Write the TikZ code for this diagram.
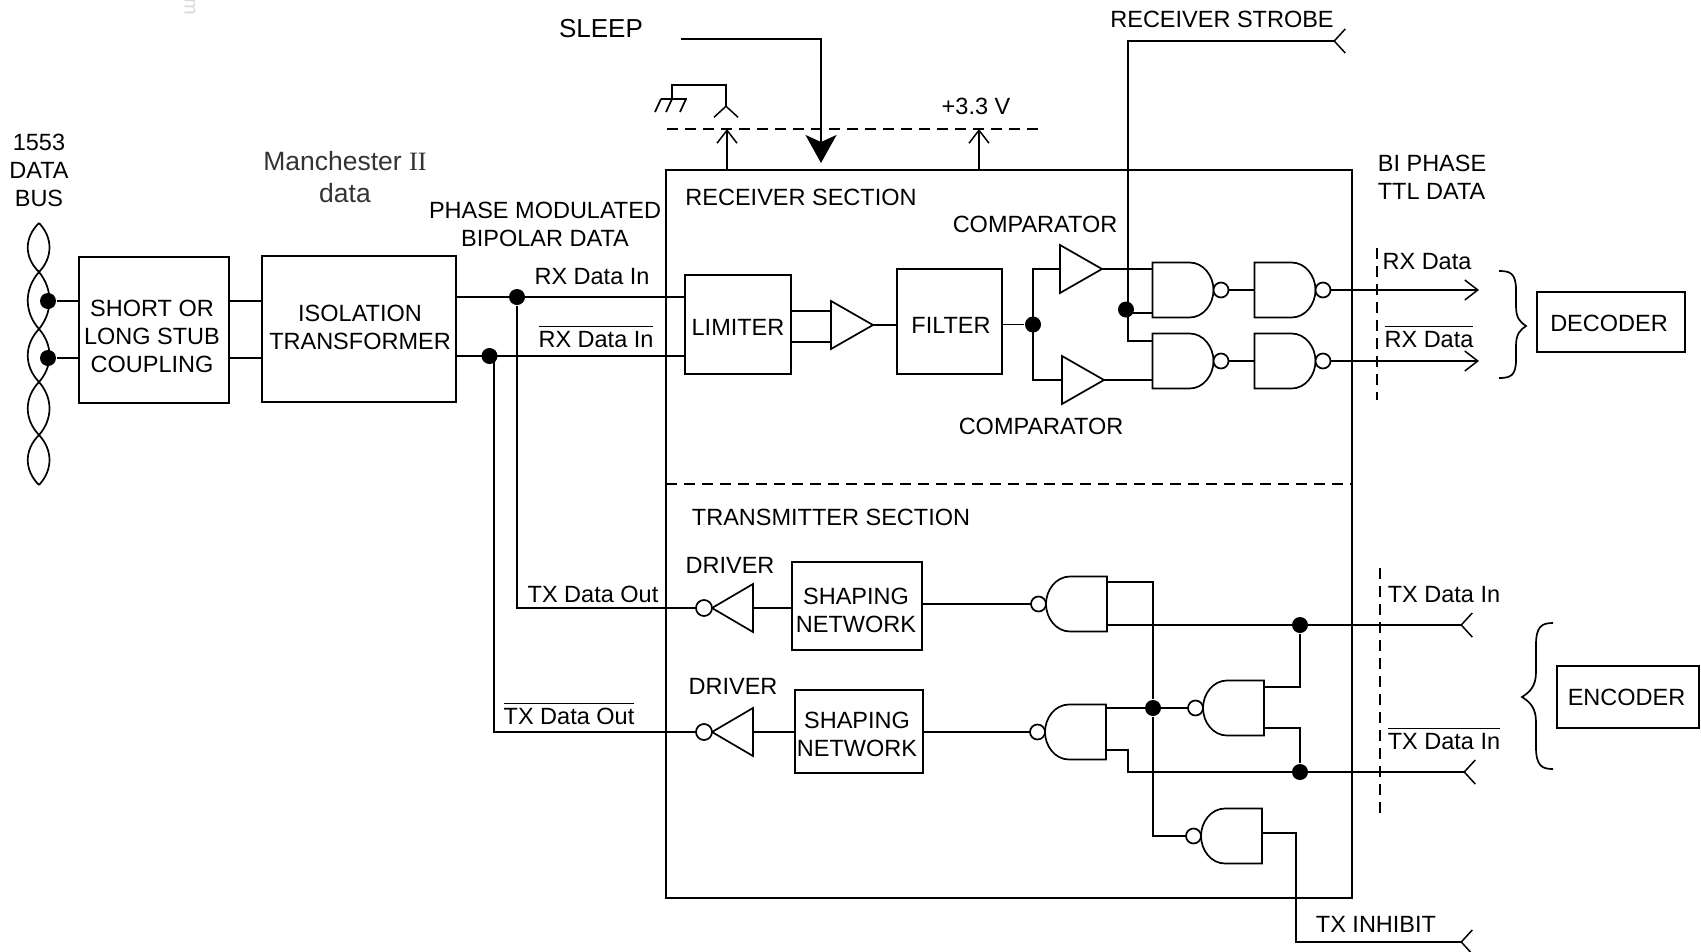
\documentclass[tikz,border=0pt]{standalone}
\usepackage{fontspec}
\setmainfont{Liberation Sans}
\newfontfamily\romanii{Liberation Serif}
\usetikzlibrary{arrows.meta}
\newcommand{\lblfont}{\fontsize{23.5}{28}\selectfont}
\newcommand{\barlbl}[1]{$\overline{\rule{0pt}{20pt}\mbox{#1}}$}
\tikzset{
blockbox/.style 2 args={draw,minimum width=#1,minimum height=#2},
dotnode/.style={circle,fill=black,minimum size=16pt},
dashwire/.style={dash pattern=on 11pt off 7pt},
outbarb/.style={-{Straight Barb[length=13pt,width=20pt,line width=1.5pt]}},
inbarb/.style={-{Straight Barb[reversed,length=11pt,width=24pt,line width=1.5pt]}},
nandgate/.pic={
\draw[fill=white](0,-27.5)--(37,-27.5) .. controls (51,-27.5) and (61,-14) .. (61,0) .. controls (61,14) and (51,27.5) .. (37,27.5)--(0,27.5)--cycle;
\draw[fill=white](68.5,0)circle(7.5pt);
\coordinate(-w)at(0,0);
\coordinate(-out)at(76,0);
},
bufgate/.pic={
\draw(0,-24)--(42,0)--(0,24)--cycle;
\coordinate(-in)at(0,0);
\coordinate(-out)at(42,0);
},
drvgate/.pic={
\draw(0,-24)--(41,0)--(0,24)--cycle;
\draw[fill=white](49,0)circle(8pt);
\coordinate(-in)at(0,0);
\coordinate(-out)at(57,0);
},
}
\begin{document}
\begin{tikzpicture}[x=1pt,y=-1pt,line width=1.7pt,every node/.style={font=\lblfont,inner sep=0pt,align=center}]
\useasboundingbox(0,0)rectangle(1701,951);
\node[rotate=-90,text=black!15,font=\fontsize{20}{24}\selectfont](markm)at(190,7){m};
\foreach \ya/\yb in {223/272,272/329,329/382,382/435,435/485}{
\draw(39,\ya) .. controls (24,{\ya+.3*(\yb-\ya)}) and (24,{\yb-.3*(\yb-\ya)}) .. (39,\yb);
\draw(39,\ya) .. controls (53,{\ya+.3*(\yb-\ya)}) and (53,{\yb-.3*(\yb-\ya)}) .. (39,\yb);
}
\node(bustxt)at(39,170.5){1553\\DATA\\BUS};
\node[dotnode](busa)at(48,301){};
\node[dotnode](busb)at(48,358){};
\node[blockbox={150pt}{146pt}](coupling)at(154,330){};
\node(couplingtxt)at(152,336.5){SHORT OR\\LONG STUB\\COUPLING};
\node[blockbox={194pt}{146pt}](iso)at(359,329){};
\node(isotxt)at(360,327.5){ISOLATION\\TRANSFORMER};
\node[text=black!80,font=\fontsize{26.5}{32}\selectfont](manchester)at(345,177){Manchester {\romanii II}\\data};
\node(phasetxt)at(545,224.5){PHASE MODULATED\\BIPOLAR DATA};
\draw(busa)--(coupling.west|-busa);
\draw(busb)--(coupling.west|-busb);
\draw(coupling.east|-busa)--(iso.west|-busa);
\draw(coupling.east|-busb)--(iso.west|-busb);

\node[blockbox={686pt}{728pt}](chip)at(1009,534){};
\coordinate(sepl)at(666,484);
\draw[dashwire](sepl)--(chip.east|-sepl);
\node(rcvtxt)at(801,197){RECEIVER SECTION};
\node(xmttxt)at(831,517){TRANSMITTER SECTION};

\node[blockbox={106pt}{99pt}](limiter)at(738,324.5){};
\node(limitertxt)at(738,327){LIMITER};
\node[blockbox={105pt}{105pt}](filter)at(949.5,321.5){};
\node(filtertxt)at(951,325.5){FILTER};
\pic(amp)at(831,325){bufgate};
\node[dotnode](jrx)at(517,297){};
\node[dotnode](jrb)at(489.5,356){};
\coordinate(jrbv)at(494,356);
\node(rxin)at(592,277){RX Data In};
\node(rxbar)at(596,336.5){\barlbl{RX Data In}};
\draw(iso.east|-jrx)--(limiter.west|-jrx);
\draw(iso.east|-jrb)--(limiter.west|-jrb);
\coordinate(ampa)at(831,311);
\coordinate(ampb)at(831,342);
\draw(limiter.east|-ampa)--(ampa);
\draw(limiter.east|-ampb)--(ampb);
\draw(amp-out)--(filter.west|-amp-out);

\pic(cmpa)at(1060,269){bufgate};
\pic(cmpb)at(1062,380){bufgate};
\node(cmpatxt)at(1035,224){COMPARATOR};
\node(cmpbtxt)at(1041,426){COMPARATOR};
\node[dotnode](jf)at(1033,324.5){};
\draw(filter.east|-jf)--(jf);
\draw(cmpa-in)--(jf|-cmpa-in)--(jf|-cmpb-in)--(cmpb-in);
\pic(ga)at(1152.5,290){nandgate};
\pic(gb)at(1254.5,290){nandgate};
\pic(gc)at(1152.5,361){nandgate};
\pic(gd)at(1254.5,361){nandgate};
\draw(cmpa-out)--(ga-w|-cmpa-out);
\draw(cmpb-out)--(gc-w|-cmpb-out);
\draw(ga-out)--(gb-w);
\draw(gc-out)--(gd-w);

\node[dotnode](jst)at(1126,309.5){};
\coordinate(jsv)at(1128,313);
\coordinate(strobeend)at(1346,41);
\coordinate(gcup)at(1152,341);
\node(strobetxt)at(1222,19){RECEIVER STROBE};
\draw[inbarb](jsv)|-(strobeend);
\draw(jsv)--(ga-w|-jsv);
\draw(jsv)|-(gcup);

\coordinate(rxaend)at(1479,290);
\coordinate(rxbend)at(1479,361);
\draw[outbarb](gb-out)--(rxaend);
\draw[outbarb](gd-out)--(rxbend);
\coordinate(rxdasha)at(1377,248);
\coordinate(rxdashb)at(1377,400);
\draw[dashwire](rxdasha)--(rxdashb);
\node(biphase)at(1377,177)[anchor=west,align=left]{BI PHASE\\TTL DATA};
\node(rxdata)at(1427,262){RX Data};
\node(rxdatabar)at(1429,336.5){\barlbl{RX Data}};
\draw(1499,271) .. controls (1510,271) and (1516,273) .. (1516,290)--(1516,306) .. controls (1516,318) and (1520,322) .. (1526,326) .. controls (1520,330) and (1516,334) .. (1516,346)--(1516,360) .. controls (1516,376) and (1510,378) .. (1499,378);
\node[blockbox={148pt}{60pt}](decoder)at(1611,322){};
\node(decodertxt)at(1609,323.5){DECODER};

\coordinate(sleepstart)at(681,39);
\coordinate(sleepend)at(821,163);
\node[font=\fontsize{26}{30}\selectfont](sleeptxt)at(601,29){SLEEP};
\draw[-{Stealth[length=28pt,width=31pt,inset=7pt]}](sleepstart)-|(sleepend);
\coordinate(raill)at(667,129);
\coordinate(railr)at(1038,129);
\draw[dashwire](raill)--(railr);
\coordinate(pwra)at(727,129);
\coordinate(pwrb)at(979,129);
\draw[outbarb](chip.north-|pwra)--(pwra);
\draw[outbarb](chip.north-|pwrb)--(pwrb);
\node(volttxt)at(976,106){+3.3 V};
\coordinate(gnd)at(672,99);
\coordinate(gndtop)at(726,85);
\coordinate(gndend)at(726,118);
\draw[inbarb](gnd)|-(gndtop)--(gndend);
\draw(661,99)--(687,99);
\foreach \tx in {661,672,686}\draw(\tx,99)--++(-6,13);

\node[blockbox={130pt}{88pt}](shapea)at(857,606){};
\node(shapeatxt)at(856,610){SHAPING\\NETWORK};
\node[blockbox={128pt}{83pt}](shapeb)at(859,731.5){};
\node(shapebtxt)at(857,734.5){SHAPING\\NETWORK};
\pic[xscale=-1](drva)at(753,608){drvgate};
\pic[xscale=-1](drvb)at(753,732){drvgate};
\node(drvatxt)at(730,565){DRIVER};
\node(drvbtxt)at(733,686){DRIVER};
\node(txout)at(593,594){TX Data Out};
\node(txoutbar)at(569,714){\barlbl{TX Data Out}};
\draw(jrx)|-(drva-out);
\draw(jrbv)|-(drvb-out);
\draw(drva-in)--(shapea.west|-drva-in);
\draw(drvb-in)--(shapeb.west|-drvb-in);

\pic[xscale=-1](txa)at(1107,604){nandgate};
\pic[xscale=-1](txb)at(1106,732){nandgate};
\pic[xscale=-1](txm)at(1264,708){nandgate};
\pic[xscale=-1](txl)at(1262,836){nandgate};
\draw(shapea.east|-txa-out)--(txa-out);
\draw(shapeb.east|-txb-out)--(txb-out);
\node[dotnode](jmid)at(1153,708){};
\coordinate(txaup)at(1107,582);
\draw(txaup)-|(jmid);
\draw(jmid)|-(txl-out);
\draw(txb-w|-jmid)--(txm-out);

\node[dotnode](jta)at(1300,625){};
\node[dotnode](jtb)at(1300,772){};
\coordinate(txaend)at(1473,625);
\coordinate(txbend)at(1476,772);
\coordinate(txbdn)at(1106,750);
\coordinate(txbk)at(1128,772);
\coordinate(midup)at(1264,687);
\coordinate(midlo)at(1264,728);
\draw[inbarb](txa-w|-txaend)--(txaend);
\draw[inbarb](txbdn)-|(txbk)--(txbend);
\draw(midup)-|(jta);
\draw(midlo)-|(jtb);
\coordinate(lowo)at(1262,833);
\coordinate(inhk)at(1296,942);
\coordinate(inhend)at(1473,942);
\draw[inbarb](lowo)-|(inhk)--(inhend);
\node(inhtxt)at(1376,924){TX INHIBIT};

\coordinate(txdasha)at(1380,568);
\coordinate(txdashb)at(1380,818);
\draw[dashwire](txdasha)--(txdashb);
\node(txin)at(1444,595){TX Data In};
\node(txinbar)at(1444,739){\barlbl{TX Data In}};
\draw(1553,623) .. controls (1542,623) and (1536,626) .. (1536,645)--(1536,672) .. controls (1536,686) and (1530,692) .. (1522,697) .. controls (1530,702) and (1536,708) .. (1536,722)--(1536,747) .. controls (1536,766) and (1542,769) .. (1553,769);
\node[blockbox={142pt}{62pt}](encoder)at(1628,697){};
\node(encodertxt)at(1626.5,697){ENCODER};
\end{tikzpicture}
\end{document}
